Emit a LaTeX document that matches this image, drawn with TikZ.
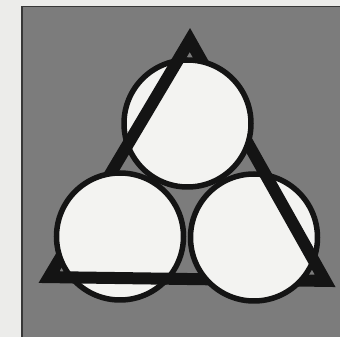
\documentclass[tikz,border=0pt]{standalone}
\definecolor{paper}{RGB}{236,236,234}
\definecolor{halftone}{RGB}{124,124,124}
\definecolor{ink}{RGB}{20,20,20}
\definecolor{disc}{RGB}{243,243,241}
\tikzset{
  band/.style={draw=ink, line width=12pt, line join=miter, miter limit=10},
  ring/.style={draw=ink, fill=disc, line width=5.5pt},
  frameline/.style={draw=ink!85, line width=1.5pt}
}
\begin{document}
\begin{tikzpicture}[x=1pt,y=1pt]
\useasboundingbox (0,0) rectangle (340,337);
\fill[paper] (0,0) rectangle (340,337);
\fill[halftone] (21,0) rectangle (340,331);
\path[frameline] (21.75,0) -- (21.75,330.25) -- (340,330.25);
% triangle vertices (centre line of the band)
\coordinate (A) at (189.9,297);
\coordinate (B) at (49,59.9);
\coordinate (C) at (325.2,56.1);
% circle centres
\coordinate (T) at (187.5,213.5);
\coordinate (L) at (120,100.5);
\coordinate (R) at (254,99.5);
\def\rr{63.5}
\def\rc{66.75}
% triangle underneath
\path[band] (A) -- (B) -- (C) -- cycle;
% circles on top
\path[ring] (T) circle (\rr);
\path[ring] (L) circle (\rr);
\path[ring] (R) circle (\rr);
% sides that pass over a circle
\begin{scope}
  \clip (T) circle (\rc);
  \path[band] (A) -- (B);
\end{scope}
\begin{scope}
  \clip (L) circle (\rc);
  \path[band] (B) -- (C);
\end{scope}
\begin{scope}
  \clip (R) circle (\rc);
  \path[band] (C) -- (A);
\end{scope}
\end{tikzpicture}
\end{document}
